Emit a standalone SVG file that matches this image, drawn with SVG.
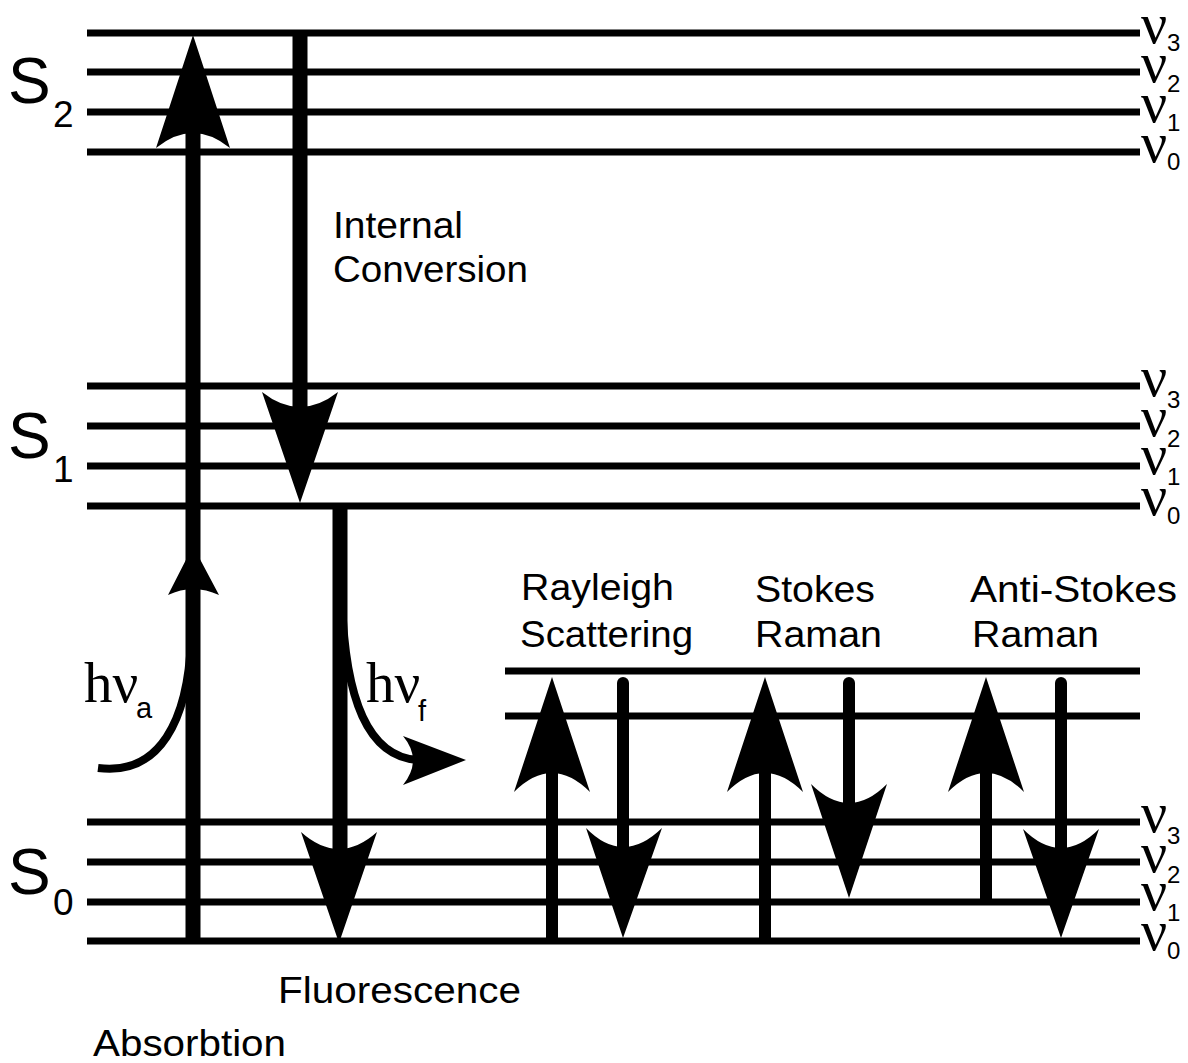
<svg xmlns="http://www.w3.org/2000/svg" width="1188" height="1063" viewBox="0 0 1188 1063">
<style>
.lvl{stroke:#000;stroke-width:7;fill:none}
.shaft{stroke:#000;stroke-width:15;fill:none}
.thin{stroke:#000;stroke-width:12;fill:none}
.curve{stroke:#000;stroke-width:8;fill:none}
.head{fill:#000;stroke:none}
.lbl{font-family:"Liberation Sans",Arial,sans-serif;font-size:36px;fill:#000}
.st{font-family:"Liberation Sans",Arial,sans-serif;font-size:64px;fill:#000}
.stsub{font-family:"Liberation Sans",Arial,sans-serif;font-size:37px;fill:#000}
.nu{font-family:"Liberation Serif","Times New Roman",serif;font-size:58px;fill:#000}
.nusub{font-family:"Liberation Sans",Arial,sans-serif;font-size:24px;fill:#000}
.hnu{font-family:"Liberation Serif","Times New Roman",serif;font-size:57px;fill:#000}
.hsub{font-family:"Liberation Sans",Arial,sans-serif;font-size:29px;fill:#000}
</style>
<rect width="1188" height="1063" fill="#fff"/>

<g id="S2">
<line class="lvl" x1="87" y1="33" x2="1140" y2="33"/>
<line class="lvl" x1="87" y1="72" x2="1140" y2="72"/>
<line class="lvl" x1="87" y1="112" x2="1140" y2="112"/>
<line class="lvl" x1="87" y1="152" x2="1140" y2="152"/>
<text class="st" x="8" y="103">S</text><text class="stsub" x="53" y="127">2</text>
<text class="nu" x="1141" y="43">ν</text><text class="nusub" x="1167" y="51">3</text>
<text class="nu" x="1141" y="82">ν</text><text class="nusub" x="1167" y="92">2</text>
<text class="nu" x="1141" y="122">ν</text><text class="nusub" x="1167" y="131">1</text>
<text class="nu" x="1141" y="162">ν</text><text class="nusub" x="1167" y="170">0</text>
</g>

<g id="S1">
<line class="lvl" x1="87" y1="386" x2="1140" y2="386"/>
<line class="lvl" x1="87" y1="426" x2="1140" y2="426"/>
<line class="lvl" x1="87" y1="466" x2="1140" y2="466"/>
<line class="lvl" x1="87" y1="506" x2="1140" y2="506"/>
<text class="st" x="8" y="458">S</text><text class="stsub" x="53" y="482">1</text>
<text class="nu" x="1141" y="396">ν</text><text class="nusub" x="1167" y="408">3</text>
<text class="nu" x="1141" y="436">ν</text><text class="nusub" x="1167" y="447">2</text>
<text class="nu" x="1141" y="474">ν</text><text class="nusub" x="1167" y="485">1</text>
<text class="nu" x="1141" y="515">ν</text><text class="nusub" x="1167" y="524">0</text>
</g>

<g id="S0">
<line class="lvl" x1="87" y1="822" x2="1140" y2="822"/>
<line class="lvl" x1="87" y1="862" x2="1140" y2="862"/>
<line class="lvl" x1="87" y1="902" x2="1140" y2="902"/>
<line class="lvl" x1="87" y1="941" x2="1140" y2="941"/>
<text class="st" x="8" y="894">S</text><text class="stsub" x="53" y="915">0</text>
<text class="nu" x="1141" y="832">ν</text><text class="nusub" x="1167" y="844">3</text>
<text class="nu" x="1141" y="872">ν</text><text class="nusub" x="1167" y="883">2</text>
<text class="nu" x="1141" y="910">ν</text><text class="nusub" x="1167" y="921">1</text>
<text class="nu" x="1141" y="950">ν</text><text class="nusub" x="1167" y="959">0</text>
</g>

<g id="virtual">
<line class="lvl" x1="505" y1="671" x2="1140" y2="671"/>
<line class="lvl" x1="505" y1="716" x2="1140" y2="716"/>
</g>

<g id="labels">
<text class="lbl" x="333" y="238" textLength="130" lengthAdjust="spacingAndGlyphs">Internal</text>
<text class="lbl" x="333" y="282" textLength="195" lengthAdjust="spacingAndGlyphs">Conversion</text>
<text class="lbl" x="521" y="600" textLength="153" lengthAdjust="spacingAndGlyphs">Rayleigh</text>
<text class="lbl" x="520" y="647" textLength="173" lengthAdjust="spacingAndGlyphs">Scattering</text>
<text class="lbl" x="755" y="602" textLength="120" lengthAdjust="spacingAndGlyphs">Stokes</text>
<text class="lbl" x="755" y="647" textLength="127" lengthAdjust="spacingAndGlyphs">Raman</text>
<text class="lbl" x="970" y="602" textLength="207" lengthAdjust="spacingAndGlyphs">Anti-Stokes</text>
<text class="lbl" x="972" y="647" textLength="127" lengthAdjust="spacingAndGlyphs">Raman</text>
<text class="lbl" x="278" y="1003" textLength="243" lengthAdjust="spacingAndGlyphs">Fluorescence</text>
<text class="lbl" x="93" y="1056" textLength="193" lengthAdjust="spacingAndGlyphs">Absorbtion</text>
<text class="hnu" x="84" y="702">hν</text><text class="hsub" x="136" y="718">a</text>
<text class="hnu" x="366" y="702">hν</text><text class="hsub" x="418" y="721">f</text>
</g>

<g id="connectors">
<!-- Absorption -->
<line class="shaft" x1="193" y1="941" x2="193" y2="80"/>
<path class="head" d="M193,35 L230,148 Q193,118 156,148 Z"/>
<path class="head" d="M193,546 L219,595 Q193,583 168,595 Z"/>
<path class="curve" d="M98,768 C160,776 188,720 191,640"/>
<!-- Internal conversion -->
<line class="shaft" x1="300" y1="33" x2="300" y2="460"/>
<path class="head" d="M300,503 L262,392 Q300,422 338,392 Z"/>
<!-- Fluorescence -->
<line class="shaft" x1="340" y1="506" x2="340" y2="900"/>
<path class="head" d="M339,943 L301,832 Q339,866 377,832 Z"/>
<path class="curve" d="M342,600 C345,700 368,757 418,760"/>
<path class="head" d="M466,760 L403,736 Q423,760 403,785 Z"/>
<!-- Rayleigh -->
<line class="thin" x1="552" y1="941" x2="552" y2="720"/>
<path class="head" d="M552,677 L590,792 Q552,754 514,792 Z"/>
<line class="thin" x1="623" y1="683" x2="623" y2="900" stroke-linecap="round"/>
<path class="head" d="M623,938 L586,828 Q623,866 662,828 Z"/>
<!-- Stokes Raman -->
<line class="thin" x1="765" y1="941" x2="765" y2="720"/>
<path class="head" d="M765,677 L803,792 Q765,754 727,792 Z"/>
<line class="thin" x1="849" y1="683" x2="849" y2="860" stroke-linecap="round"/>
<path class="head" d="M849,898 L811,784 Q849,822 887,784 Z"/>
<!-- Anti-Stokes Raman -->
<line class="thin" x1="986" y1="902" x2="986" y2="720"/>
<path class="head" d="M986,677 L1024,792 Q986,754 948,792 Z"/>
<line class="thin" x1="1061" y1="683" x2="1061" y2="900" stroke-linecap="round"/>
<path class="head" d="M1061,938 L1023,829 Q1061,867 1099,829 Z"/>
</g>
</svg>
